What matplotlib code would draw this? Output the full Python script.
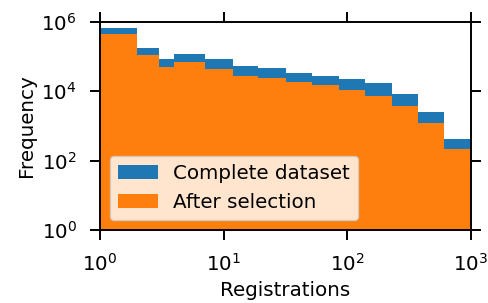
import numpy as np
import matplotlib
matplotlib.use("Agg")
import matplotlib.pyplot as plt
from matplotlib.ticker import NullLocator

bin_edges = [1, 2, 3, 4, 7, 12, 19, 32, 52, 85, 139, 228, 373, 610, 1000]
complete_counts = [6.6e5, 1.75e5, 8.4e4, 1.2e5, 8.4e4, 5.3e4, 4.6e4, 3.4e4,
                   2.7e4, 2.2e4, 1.74e4, 8.2e3, 2.5e3, 4.1e2]
selected_counts = [4.5e5, 1.14e5, 5.1e4, 7.0e4, 4.5e4, 2.8e4, 2.5e4, 1.9e4,
                   1.5e4, 1.1e4, 7.4e3, 3.8e3, 1.2e3, 2.2e2]
labels = ["Complete dataset", "After selection"]
x_ticks = [1, 10, 100, 1000]
y_ticks = [1, 1e2, 1e4, 1e6]

FS = 14.3
plt.rcParams['font.family'] = ['DejaVu Sans']
plt.rcParams['font.size'] = FS

fig = plt.figure(figsize=(4.88, 3.03), dpi=100)
ax = fig.add_axes([100/488, 1 - 230/303, (471-100)/488, (230-22)/303])

left = bin_edges[:-1]
ax.hist(left, bins=bin_edges, weights=complete_counts, color="#1f77b4", label=labels[0])
ax.hist(left, bins=bin_edges, weights=selected_counts, color="#ff7f0e", label=labels[1])

ax.set_xscale('log')
ax.set_yscale('log')
ax.set_xlim(1, 1000)
ax.set_ylim(1, 1e6)
ax.set_xticks(x_ticks)
ax.set_yticks(y_ticks)
ax.xaxis.set_minor_locator(NullLocator())
ax.yaxis.set_minor_locator(NullLocator())
ax.tick_params(which='major', direction='out', length=7.2, width=1.4, pad=9.5,
               top=True, right=True, labelsize=FS)
for s in ax.spines.values():
    s.set_linewidth(1.4)

ax.set_xlabel("Registrations", fontsize=FS)
ax.set_ylabel("Frequency", fontsize=FS)
ax.legend(loc='lower left', fontsize=FS)

fig.savefig("out.png", dpi=100)
